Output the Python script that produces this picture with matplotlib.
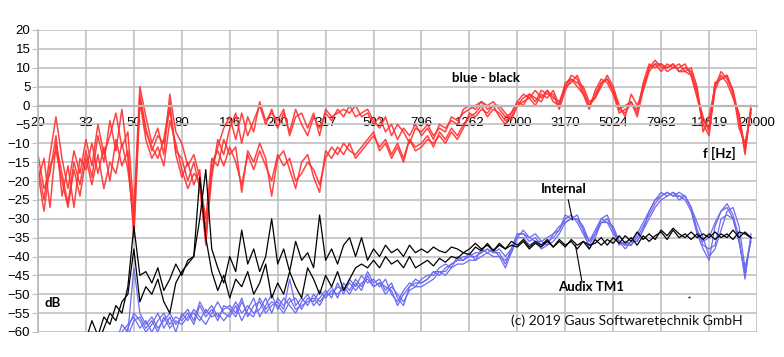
import numpy as np
import matplotlib
matplotlib.use("Agg")
from matplotlib import pyplot as plt

# x axis: 1/40 decade steps, labelled every 8 points (category axis like Excel)
freq_labels = ["20", "32", "50", "80", "126", "200", "317", "502", "796",
               "1262", "2000", "3170", "5024", "7962", "12619", "20000"]

# blue - black difference, several measurements (dB)
red_1 = [-16, -25, -13, -3, -14, -22, -12, -18,
         -9, -16, -5, -13, -8, -2, -11, -7,
         -28, 5, -3, -10, -6, -13, 3, -7,
         -10, -16, -13, -19, -33, -17, -11, -6,
         -3, -9, -2, -8, -4, 0, -5, -1,
         -6, -2, -7, -1, -5, -8, -3, -6,
         -2, -4, -1, -3, 0, -3, -2, -1,
         -4, -6, -3, -8, -5, -7, -10, -6,
         -7, -5, -8, -6, -7, -3, -4, -2,
         -1, 0, 1, 0, 1, -1, -3, -2,
         1, 3, 2, 4, 2, 4, 1, 0,
         5, 8, 7, 3, 0, 3, 6, 7,
         4, -1, 0, 1, -2, 6, 11, 10,
         11, 10, 11, 9, 10, 9, 4, -5,
         -8, 6, 7, 8, 3, -4, -12, -1]
red_2 = [-20, -14, -27, -10, -18, -26, -15, -21,
         -12, -19, -8, -15, -4, -12, -1, -14,
         -33, 3, -6, -12, -8, -10, -1, -12,
         -14, -20, -15, -22, -36, -19, -9, -13,
         -6, -2, -10, -3, -7, 1, -4, -2,
         -4, -1, -8, -3, -2, -6, -2, -8,
         -1, -3, -2, -1, -2, 0, -3, -2,
         -5, -3, -7, -5, -9, -6, -8, -5,
         -8, -6, -9, -5, -6, -4, -5, -1,
         0, -1, 1, -1, 0, 0, -2, -4,
         0, 2, 3, 1, 4, 3, 3, -1,
         4, 7, 6, 5, 1, 2, 5, 8,
         5, 0, -3, 3, 0, 4, 9, 11,
         9, 11, 10, 10, 11, 8, 3, -3,
         -7, 4, 8, 6, 2, -2, -13, 0]
red_3 = [-13, -22, -18, -8, -24, -16, -27, -14,
         -17, -10, -18, -11, -20, -9, -16, -12,
         -35, 1, -9, -14, -11, -16, -4, -10,
         -17, -22, -18, -20, -30, -14, -16, -9,
         -13, -11, -23, -12, -15, -10, -14, -24,
         -14, -12, -17, -22, -15, -13, -19, -23,
         -12, -14, -11, -13, -10, -14, -12, -10,
         -8, -11, -9, -13, -10, -14, -9, -11,
         -10, -8, -11, -7, -9, -6, -8, -5,
         -3, -2, 0, -3, -1, -2, -4, -3,
         0, 1, 2, 0, 3, 2, 4, 0,
         6, 7, 5, 3, -1, 4, 7, 6,
         3, -2, -1, 0, -1, 5, 10, 12,
         10, 10, 11, 9, 9, 10, 5, -7,
         -3, 5, 9, 7, 4, -6, -10, -2]
red_4 = [-18, -28, -16, -12, -20, -27, -17, -24,
         -14, -21, -13, -22, -15, -18, -10, -17,
         -30, 2, -7, -11, -14, -9, 1, -13,
         -19, -15, -21, -17, -37, -15, -12, -16,
         -11, -15, -21, -13, -17, -12, -16, -20,
         -13, -16, -14, -20, -18, -15, -17, -21,
         -14, -11, -13, -10, -12, -13, -11, -9,
         -7, -12, -10, -14, -11, -15, -9, -12,
         -11, -9, -10, -8, -10, -7, -9, -6,
         -2, -3, -1, -2, 0, -3, -5, -2,
         1, 0, 3, 2, 1, 4, 2, 1,
         5, 6, 8, 4, 0, 2, 6, 7,
         4, -1, -2, 1, -3, 4, 10, 11,
         11, 9, 10, 11, 9, 8, 2, -4,
         -6, 6, 7, 8, 4, -3, -11, -1]

# Audix TM1 reference microphone (black)
black_1 = [-66, -66, -66, -66, -66, -66, -66, -66,
           -62, -57, -61, -56, -58, -53, -55, -48,
           -32, -45, -44, -47, -43, -49, -46, -42,
           -45, -41, -40, -30, -17, -38, -43, -47,
           -40, -44, -33, -42, -38, -44, -40, -30,
           -42, -38, -44, -36, -41, -39, -43, -29,
           -41, -38, -42, -37, -35, -40, -35, -41,
           -38, -40, -37, -39, -38, -40, -37, -39,
           -38, -39, -37.5, -38.5, -39, -37.5, -38, -39,
           -38, -36.5, -38, -37, -38.5, -36.5, -38, -37,
           -37.5, -36, -38, -36.5, -37.5, -36, -37.5, -36,
           -37.5, -35.5, -37, -36, -38, -35.5, -37, -35.5,
           -36.5, -34.5, -36.5, -35, -37, -34.5, -36, -34.5,
           -33.5, -35.5, -33, -35, -34, -35.5, -34, -35.5,
           -34, -35.5, -34, -35, -33, -35, -33.5, -35]
black_2 = [-66, -66, -66, -66, -66, -66, -66, -66,
           -64, -60, -63, -59, -55, -57, -52, -50,
           -38, -52, -48, -50, -46, -52, -55, -47,
           -44, -42, -40, -19, -35, -44, -49, -45,
           -51, -46, -48, -44, -50, -47, -42, -51,
           -47, -50, -44, -48, -51, -43, -46, -50,
           -45, -48, -44, -49, -46, -43, -42, -43,
           -41, -43, -40, -42, -41, -43, -40, -43,
           -42, -41, -42.5, -40.5, -41.5, -40, -40.5, -39,
           -39.5, -37.5, -38.5, -36.5, -38.5, -37, -38, -36,
           -37, -35.5, -37.5, -36, -37, -35.5, -37.5, -35.5,
           -37, -36, -38, -36, -37, -36.5, -35, -37,
           -35, -36.5, -34.5, -36, -33.5, -35.5, -34, -35.5,
           -33, -34.5, -32.5, -34, -35, -33.5, -35, -34,
           -35, -33.5, -35, -34, -35.5, -33.5, -34, -35]

# internal microphone (blue)
blue_1 = [-70, -70, -70, -70, -70, -70, -70, -70,
          -70, -70, -70, -70, -70, -63, -58, -60,
          -43, -55, -58, -56, -59, -57, -55, -58,
          -56, -54, -57, -52, -55, -53, -56, -54,
          -53, -55, -51, -56, -53, -52, -55, -53,
          -52, -54, -46, -53, -51, -53, -50, -52,
          -50, -48, -51, -47, -49, -46, -48, -44,
          -47, -46, -49, -47, -51, -53, -48, -47,
          -47, -46, -44, -45, -43, -42, -41, -41,
          -40, -40, -39, -38, -39, -39, -42, -38,
          -34, -34, -36, -35, -37, -36, -35, -33,
          -30, -29, -31, -34, -37, -34, -31, -30,
          -33, -37, -36, -37, -35, -32, -29, -26,
          -24, -23, -24, -24, -25, -28, -34, -38,
          -41, -32, -28, -27, -30, -36, -45, -35]
blue_2 = [-70, -70, -70, -70, -70, -70, -70, -70,
          -70, -70, -70, -70, -70, -70, -62, -59,
          -55, -57, -60, -58, -55, -59, -56, -60,
          -55, -57, -54, -56, -58, -55, -52, -55,
          -56, -53, -57, -54, -51, -56, -53, -50,
          -54, -51, -53, -55, -52, -50, -53, -51,
          -49, -51, -47, -50, -46, -48, -45, -47,
          -46, -48, -46, -50, -52, -49, -47, -48,
          -46, -45, -45, -43, -42, -43, -40, -41,
          -39, -41, -38, -39, -38, -40, -41, -39,
          -35, -33, -35, -36, -36, -37, -34, -32,
          -31, -30, -29, -33, -36, -33, -30, -31,
          -34, -36, -37, -36, -36, -33, -28, -25,
          -23, -24, -23, -25, -24, -27, -33, -36,
          -35, -31, -28, -26, -29, -35, -46, -34]
blue_3 = [-70, -70, -70, -70, -70, -70, -70, -70,
          -70, -70, -70, -70, -70, -70, -60, -58,
          -56, -59, -57, -60, -57, -55, -58, -56,
          -57, -55, -58, -53, -56, -54, -57, -53,
          -54, -56, -52, -55, -56, -51, -54, -52,
          -53, -55, -52, -51, -54, -51, -52, -49,
          -51, -49, -50, -48, -50, -47, -49, -45,
          -48, -47, -50, -48, -50, -52, -49, -48,
          -48, -47, -46, -44, -45, -43, -42, -42,
          -41, -41, -40, -39, -40, -40, -43, -39,
          -35, -35, -37, -36, -38, -37, -36, -34,
          -31, -30, -30, -33, -38, -35, -31, -31,
          -32, -36, -38, -36, -36, -33, -30, -27,
          -25, -24, -23, -24, -24, -27, -31, -35,
          -40, -38, -33, -28, -27, -32, -43, -36]
blue_4 = [-70, -70, -70, -70, -70, -70, -70, -70,
          -70, -70, -70, -70, -70, -70, -70, -61,
          -57, -56, -59, -57, -60, -56, -59, -57,
          -58, -56, -55, -57, -54, -56, -55, -57,
          -55, -52, -55, -53, -55, -54, -51, -55,
          -51, -53, -51, -54, -53, -52, -51, -53,
          -50, -50, -48, -49, -47, -49, -47, -46,
          -48, -47, -48, -49, -53, -50, -48, -46,
          -47, -46, -44, -44, -44, -42, -41, -40,
          -40, -39, -39, -38, -39, -38, -40, -38,
          -34, -34, -35, -34, -36, -35, -34, -33,
          -29, -30, -30, -32, -36, -34, -30, -29,
          -33, -36, -37, -37, -34, -31, -28, -25,
          -24, -23, -24, -23, -24, -27, -33, -37,
          -38, -37, -30, -29, -30, -36, -44, -35]

red_curves = [red_1, red_2, red_3, red_4]
blue_curves = [blue_1, blue_2, blue_3, blue_4]
black_curves = [black_1, black_2]

W, H = 784, 357
fig = plt.figure(figsize=(W / 100, H / 100), dpi=100)
ax = fig.add_axes([38 / W, 1 - 332 / H, 719 / W, 302 / H])

x = np.arange(len(red_1))
for c in red_curves:
    ax.plot(x, c, color="#ff3030", lw=1.1, alpha=0.9)
for c in blue_curves:
    ax.plot(x, c, color="#6b6bf0", lw=0.9)
for c in black_curves:
    ax.plot(x, c, color="black", lw=0.9)

ax.set_xlim(0, 120)
ax.set_ylim(-60, 20)
ax.set_xticks(np.arange(0, 121, 8))
ax.set_xticklabels(freq_labels)
ax.set_yticks(np.arange(-60, 21, 5))
ax.grid(True, color="#c0c0c0", lw=1.2)
ax.set_axisbelow(True)

for s in ["top", "right"]:
    ax.spines[s].set_visible(False)
ax.spines["left"].set_color("#b8b8b8")
ax.spines["left"].set_linewidth(1.2)
ax.spines["bottom"].set_position(("data", 0))
ax.spines["bottom"].set_color("#b8b8b8")
ax.spines["bottom"].set_linewidth(1.6)

tick_font = "Liberation Sans"
ax.tick_params(axis="x", length=0, pad=8, labelsize=9.5)
ax.tick_params(axis="y", length=4, color="#c0c0c0", pad=1.5, labelsize=9.5)
for lab in ax.get_xticklabels() + ax.get_yticklabels():
    lab.set_family(tick_font)

bold = dict(family="Lato", fontweight="bold", fontsize=9.5, ha="center", va="center")
ax.text(74.7, 7.3, "blue - black", **bold)
ax.text(113.7, -12.6, "f [Hz]", **bold)
ax.text(87.8, -22.1, "Internal", **bold)
ax.text(92.3, -48.1, "Audix TM1", **bold)
ax.text(2.5, -52.3, "dB", **bold)
ax.text(98.3, -57.1, "(c) 2019 Gaus Softwaretechnik GmbH", family="Lato",
        fontsize=10, ha="center", va="center", color="#111111")

# leader lines
ax.plot([88.5, 89.2], [-25.0, -30.3], color="black", lw=0.8)
ax.plot([90.8, 89.7], [-46.8, -37.0], color="black", lw=0.8)
ax.plot([108.7], [-50.7], marker="_", color="black", ms=2, mew=1)

fig.savefig("out.png", dpi=100)
